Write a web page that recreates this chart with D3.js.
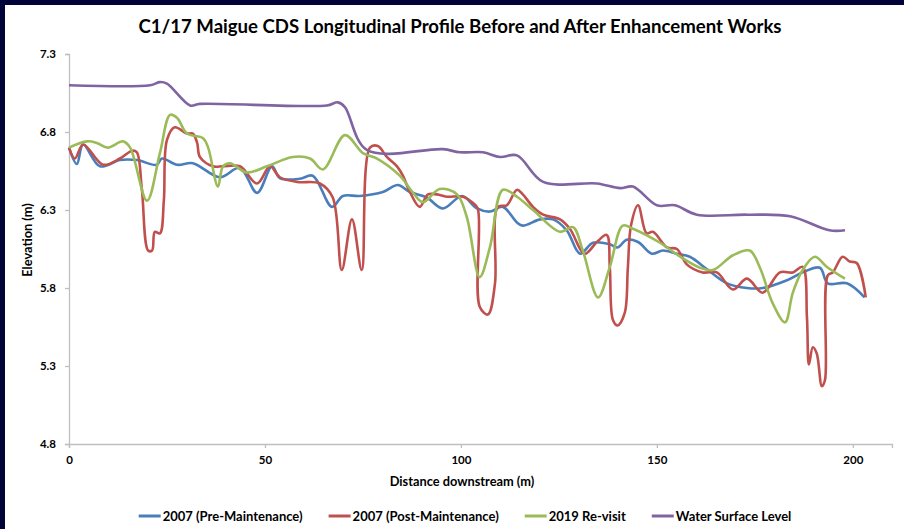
<!DOCTYPE html>
<html><head><meta charset="utf-8">
<script src="https://cdn.jsdelivr.net/npm/d3@7"></script>
<style>
html,body{margin:0;padding:0;background:#020339;}
svg{display:block;}
text{font-family:Lato,"Open Sans",sans-serif;font-weight:bold;fill:#000;}
</style></head>
<body><svg id="chart" width="904" height="529"></svg>
<script>
const title = "C1/17 Maigue CDS Longitudinal Profile Before and After Enhancement Works";
const xTitle = "Distance downstream (m)";
const yTitle = "Elevation (m)";
const xTicks = [0, 50, 100, 150, 200];
const yTicks = [4.8, 5.3, 5.8, 6.3, 6.8, 7.3];
const seriesNames = ["2007 (Pre-Maintenance)", "2007 (Post-Maintenance)", "2019 Re-visit", "Water Surface Level"];
const seriesColors = ["#4a7ebb", "#c0504d", "#9bbb59", "#8064a2"];

const preMaintenance = [
[0,6.70],[2.0,6.595],[3.6,6.72],[7.9,6.58],[13,6.62],[17.3,6.62],[22.4,6.59],[23.7,6.63],[27.6,6.59],
[31.6,6.60],[38.5,6.51],[43.6,6.57],[48,6.41],[51.8,6.58],[53.8,6.505],[58.9,6.50],[62.2,6.52],
[67.1,6.32],[69.9,6.39],[74.2,6.39],[80.1,6.415],[83.9,6.46],[87,6.415],[91.3,6.38],[95.4,6.31],
[100.3,6.39],[104.1,6.31],[107.4,6.29],[110.7,6.32],[114.3,6.22],[115.8,6.20],[120.2,6.24],[123.5,6.24],
[127,6.17],[130.4,6.02],[133.7,6.09],[138,6.08],[140,6.06],[142.3,6.11],[145.2,6.095],[148.7,6.02],
[151.5,6.04],[155.1,6.02],[158.4,6.0],[162.8,5.92],[167.9,5.83],[173,5.80],[177,5.80],[183.2,5.85],
[187.2,5.90],[191.6,5.93],[193.6,5.83],[198.5,5.83],[203,5.74]];

const postMaintenance = [
[0,6.70],[1.5,6.63],[3.6,6.72],[8.7,6.59],[13,6.63],[16.1,6.68],[17.3,6.67],[18.6,6.43],[20.2,6.04],
[21.2,6.04],[21.9,6.16],[23.2,6.15],[24.2,6.36],[25,6.75],[27,6.83],[30.1,6.79],[31.6,6.79],[32.7,6.73],
[33.4,6.64],[36.7,6.58],[39.3,6.58],[43.6,6.58],[48,6.47],[51.3,6.58],[53.8,6.51],[58.2,6.48],[64,6.47],
[67.3,6.38],[69.6,5.915],[72.2,6.24],[74.7,5.915],[76.8,6.70],[78.8,6.71],[81.1,6.64],[83.7,6.58],
[85.2,6.52],[87,6.415],[89.5,6.32],[91.6,6.40],[93.9,6.40],[96.4,6.385],[100.5,6.385],[103.1,6.345],
[104.3,6.31],[104.8,5.68],[106.9,5.63],[108.7,5.83],[109.4,6.32],[111.7,6.33],[114.3,6.43],[115.8,6.40],
[118.4,6.32],[121,6.27],[125.3,6.24],[127.8,6.18],[131.6,6.02],[134.7,6.095],[137.2,6.14],[138,5.93],
[138.8,5.595],[140,5.56],[141.8,5.64],[142.6,5.93],[143.4,6.20],[145.2,6.33],[147.4,6.15],[149,6.16],
[152.6,6.06],[155.1,6.05],[157.7,5.95],[161.7,5.90],[165.3,5.90],[169.4,5.79],[173,5.86],[177,5.77],
[181.4,5.90],[184.7,5.90],[187.2,5.935],[188.3,5.61],[188.8,5.31],[189.8,5.42],[190.8,5.38],[192.1,5.17],
[192.9,5.21],[193.6,5.88],[194.9,5.90],[197.4,6.0],[199.2,5.97],[201,5.96],[203.3,5.74]];

const revisit2019 = [
[0,6.70],[4.6,6.74],[7.1,6.73],[9.9,6.70],[13.8,6.74],[15.6,6.70],[19.9,6.36],[23.2,6.665],[25.8,6.91],
[27.6,6.89],[30.1,6.79],[34.2,6.76],[35.5,6.70],[38,6.45],[39.3,6.58],[41.1,6.60],[45.4,6.54],[50.5,6.58],
[57.1,6.64],[61.5,6.63],[64.8,6.56],[70.4,6.78],[75,6.665],[78.6,6.63],[84.4,6.52],[87.8,6.41],[90.3,6.35],
[94.6,6.435],[99,6.40],[101.5,6.255],[104.8,5.87],[107.4,6.06],[110.7,6.43],[114.3,6.385],[118.4,6.30],
[125.3,6.16],[128.6,6.19],[131.1,6.04],[135,5.74],[138,5.935],[141.3,6.20],[143.9,6.18],[150.8,6.09],
[156.6,5.99],[161,5.93],[164.3,5.915],[169.4,6.01],[173.7,6.04],[176.3,5.93],[179.6,5.70],[182.7,5.58],
[184.7,5.77],[187.2,5.915],[190.3,6.00],[193.4,5.935],[198,5.86]];

const waterSurface = [
[0,7.10],[20.7,7.10],[23.2,7.12],[25,7.11],[30.9,6.97],[33.4,6.98],[65.8,6.97],[68.6,6.99],[70.4,6.96],
[76,6.685],[95.4,6.69],[99.7,6.67],[105.6,6.67],[110,6.64],[114.3,6.65],[121,6.48],[134.7,6.47],
[140.6,6.44],[143.9,6.45],[150,6.33],[154.6,6.33],[160.2,6.27],[173,6.27],[184,6.26],[194,6.17],[198,6.17]];

const seriesData = [preMaintenance, postMaintenance, revisit2019, waterSurface];

const svg = d3.select("#chart");
svg.append("rect").attr("x",5).attr("y",5).attr("width",899).attr("height",524).attr("fill","#fff");

const margin = {left:69, right:892, top:54, bottom:444};
const x = d3.scaleLinear().domain([0,210]).range([margin.left, margin.right]);
const y = d3.scaleLinear().domain([4.8,7.3]).range([margin.bottom, margin.top]);

svg.append("text").attr("x",460).attr("y",33).attr("text-anchor","middle")
  .style("font-size","18.6px").text(title);

const axisColor = "#bfbfbf";
const gx = svg.append("g").attr("transform",`translate(0,${margin.bottom})`)
  .call(d3.axisBottom(x).tickValues(xTicks).tickSize(4).tickPadding(8).tickFormat(d3.format("d")));
const gy = svg.append("g").attr("transform",`translate(${margin.left},0)`)
  .call(d3.axisLeft(y).tickValues(yTicks).tickSize(4).tickPadding(9).tickFormat(d3.format(".1f")));
[gx,gy].forEach(g=>{
  g.select(".domain").attr("stroke",axisColor).attr("stroke-width",1.3);
  g.selectAll(".tick line").attr("stroke",axisColor).attr("stroke-width",1.3);
  g.selectAll(".tick text").style("font-size","11.5px").style("font-family","Lato,sans-serif").style("font-weight","bold").attr("fill","#000");
});

svg.append("text").attr("x",462).attr("y",486).attr("text-anchor","middle")
  .style("font-size","12.8px").text(xTitle);
svg.append("text").attr("transform",`translate(32,240) rotate(-90)`).attr("text-anchor","middle")
  .style("font-size","12.8px").text(yTitle);

const line = d3.line().x(d=>x(d[0])).y(d=>y(d[1])).curve(d3.curveCatmullRom.alpha(0.5));
seriesData.forEach((s,i)=>{
  svg.append("path").datum(s).attr("d",line).attr("fill","none")
    .attr("stroke",seriesColors[i]).attr("stroke-width",2.6).attr("stroke-linejoin","round");
});

// legend
const lg = svg.append("g");
let cx = 0;
seriesNames.forEach((n,i)=>{
  const g = lg.append("g");
  g.append("line").attr("x1",0).attr("x2",22).attr("y1",0).attr("y2",0).attr("stroke",seriesColors[i]).attr("stroke-width",3);
  const t = g.append("text").attr("x",24).attr("y",4.5).style("font-size","13px").text(n);
  const w = 24 + t.node().getComputedTextLength();
  g.attr("transform",`translate(${cx},0)`);
  cx += w + 26;
});
const total = cx - 26;
lg.attr("transform",`translate(${465 - total/2},516)`);
</script></body></html>
